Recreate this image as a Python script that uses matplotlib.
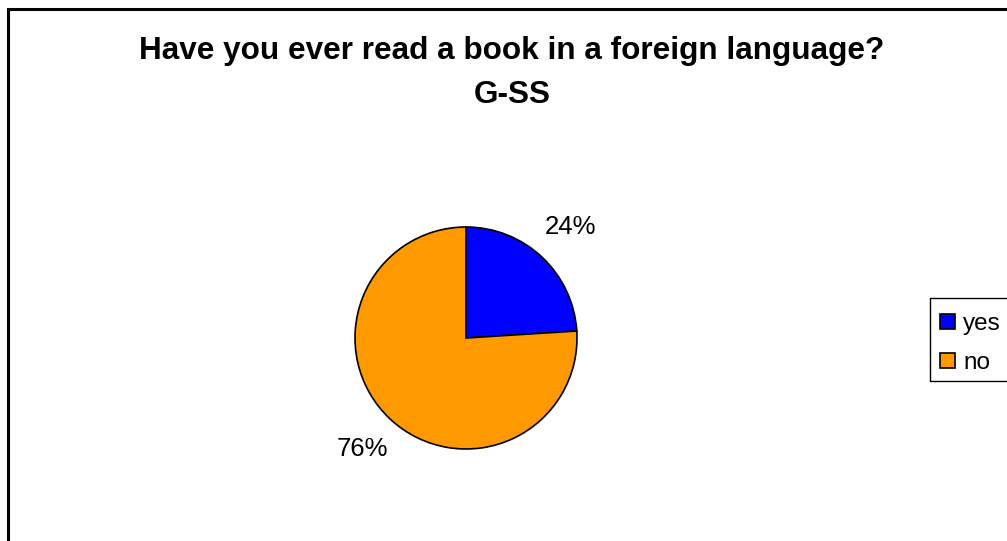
import matplotlib
matplotlib.use("Agg")
import matplotlib.pyplot as plt
from matplotlib.patches import Patch, Rectangle

# survey answers, in percent
labels = ["yes", "no"]
shares = [24, 76]
colors = ["#0000FF", "#FF9900"]
title = "Have you ever read a book in a foreign language?\nG-SS"

plt.rcParams["font.family"] = ["Liberation Sans", "DejaVu Sans"]

W, H = 1007, 541
fig = plt.figure(figsize=(W / 100, H / 100), dpi=100)
fig.patch.set_facecolor("white")

# chart area border (runs off the right and bottom edges)
fig.patches.append(Rectangle((7.5 / W, -0.1), 1.2, 1.1 - 8.5 / H,
                             transform=fig.transFigure, fill=False,
                             edgecolor="black", linewidth=2.2, clip_on=False))

fig.text(512 / W, 1 - 73 / H, title, ha="center", va="center",
         fontsize=22.7, fontweight="bold", linespacing=1.6)

# pie, centre (466, 338) px, radius 111 px
cx, cy, r = 466, 338, 111
ax = fig.add_axes([(cx - r) / W, (H - cy - r) / H, 2 * r / W, 2 * r / H])
ax.pie(shares, colors=colors, startangle=90, counterclock=False,
       autopct="%1.0f%%", pctdistance=1.37, radius=1,
       wedgeprops=dict(edgecolor="black", linewidth=1.2),
       textprops=dict(fontsize=18.5, color="black"))
ax.set_xlim(-1.0, 1.0)
ax.set_ylim(-1.0, 1.0)
ax.set_aspect("equal")
ax.axis("off")

# legend box drawn by hand so it can run past the right edge
fig.patches.append(Rectangle((929.5 / W, 1 - 380.5 / H), 100 / W, 83 / H,
                             transform=fig.transFigure, fill=False,
                             edgecolor="black", linewidth=1.0, clip_on=False))
handles = [Patch(facecolor=c, edgecolor="black", linewidth=1.2, label=l)
           for c, l in zip(colors, labels)]
leg = fig.legend(handles=handles, loc="upper left",
                 bbox_to_anchor=(940 / W, 1 - 313 / H),
                 fontsize=17.5, frameon=False,
                 handlelength=0.6, handleheight=0.6, handletextpad=0.35,
                 labelspacing=0.70, borderpad=0, borderaxespad=0)

fig.savefig("out.png", dpi=100)
